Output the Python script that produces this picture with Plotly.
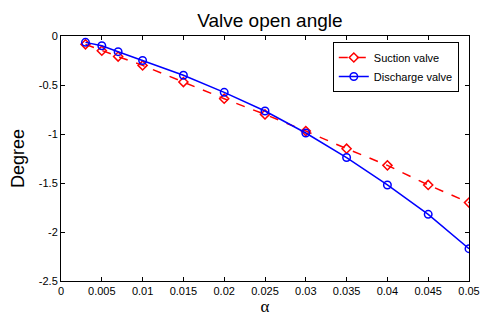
import plotly.graph_objects as go

alpha = [0.003, 0.005, 0.007, 0.01, 0.015, 0.02, 0.025, 0.03, 0.035, 0.04, 0.045, 0.05]
suction = [-0.085, -0.15, -0.21, -0.30, -0.47, -0.64, -0.80, -0.97, -1.15, -1.32, -1.52, -1.70]
discharge = [-0.065, -0.10, -0.16, -0.25, -0.40, -0.575, -0.765, -0.99, -1.24, -1.52, -1.82, -2.17]
xticks = [0, 0.005, 0.01, 0.015, 0.02, 0.025, 0.03, 0.035, 0.04, 0.045, 0.05]
xticklabels = ["0", "0.005", "0.01", "0.015", "0.02", "0.025", "0.03", "0.035", "0.04", "0.045", "0.05"]
yticks = [0, -0.5, -1, -1.5, -2, -2.5]
yticklabels = ["0", "-0.5", "-1", "-1.5", "-2", "-2.5"]

fig = go.Figure()
fig.add_trace(go.Scatter(x=alpha, y=suction, name="Suction valve", mode="lines+markers",
                         line=dict(color="#ff0000", width=1.5, dash="dash"),
                         marker=dict(symbol="diamond-open", size=7, color="#ff0000", line=dict(width=1.5))))
fig.add_trace(go.Scatter(x=alpha, y=discharge, name="Discharge valve", mode="lines+markers",
                         line=dict(color="#0000ff", width=1.5),
                         marker=dict(symbol="circle-open", size=7.5, color="#0000ff", line=dict(width=1.5))))

axis_common = dict(showgrid=False, zeroline=False, showline=True, linecolor="black", linewidth=1,
                   mirror="ticks", ticks="inside", ticklen=4, tickcolor="black", automargin=False,
                   tickfont=dict(family="Liberation Sans, Arial", size=11, color="black"))
fig.update_layout(
    width=480, height=312,
    margin=dict(l=53, r=19, t=28, b=39, autoexpand=False),
    paper_bgcolor="white", plot_bgcolor="white",
    title=dict(text="Valve open angle", x=0.512, xref="paper", xanchor="center", y=0.983, yanchor="top",
               font=dict(family="Liberation Sans, Arial", size=19, color="black")),
    xaxis=dict(range=[0, 0.05], tickvals=xticks, ticktext=xticklabels,
               title=dict(text="α", font=dict(family="Liberation Serif, Times New Roman", size=17, color="black"), standoff=2),
               **axis_common),
    yaxis=dict(range=[-2.5, 0], tickvals=yticks, ticktext=yticklabels,
               title=dict(text="Degree", font=dict(family="Liberation Sans, Arial", size=18, color="black"), standoff=12),
               **axis_common),
    legend=dict(x=0.975, y=0.9755, xanchor="right", yanchor="top", bgcolor="white",
                bordercolor="black", borderwidth=1,
                font=dict(family="Liberation Sans, Arial", size=11, color="black"),
                tracegroupgap=0, itemwidth=30),
    showlegend=True,
)
fig.write_html("out.html")
